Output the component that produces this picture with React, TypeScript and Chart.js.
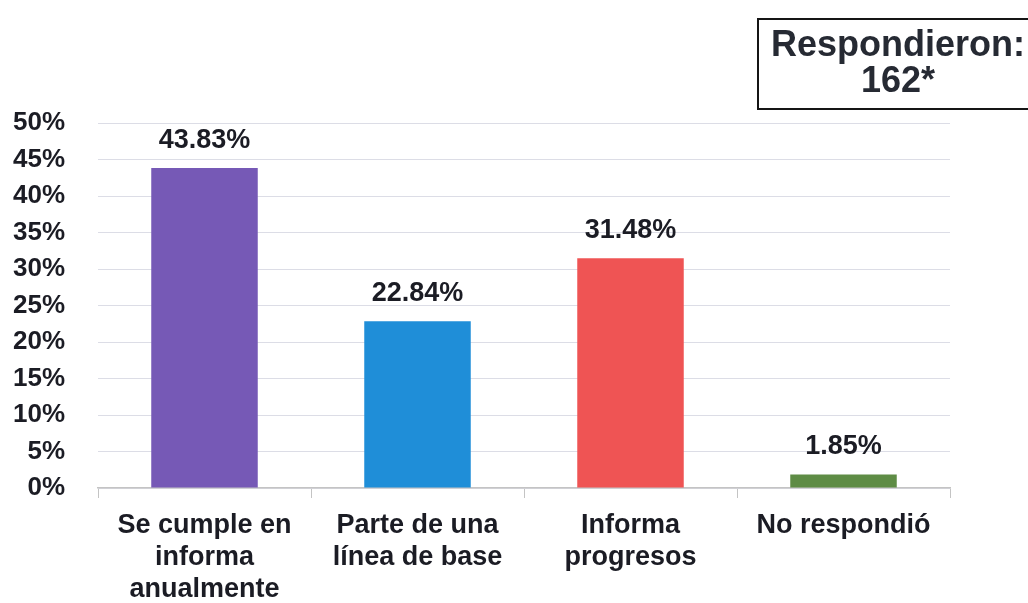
import React, { useEffect, useRef } from "react";
import { Chart, registerables } from "chart.js";

Chart.register(...registerables);

const categories: string[][] = [
  ["Se cumple en", "informa", "anualmente"],
  ["Parte de una", "línea de base"],
  ["Informa", "progresos"],
  ["No respondió"],
];
const values: number[] = [43.83, 22.84, 31.48, 1.85];
const valueLabels: string[] = ["43.83%", "22.84%", "31.48%", "1.85%"];
const barColors: string[] = ["#7659b6", "#1f8ed8", "#ef5454", "#5e8c45"];
const yTicks: number[] = [0, 5, 10, 15, 20, 25, 30, 35, 40, 45, 50];
const respondedTitle = "Respondieron:";
const respondedCount = "162*";

const FONT = "'Liberation Sans', Arial, sans-serif";
const TEXT = "#1b1c24";

const valueLabelPlugin = {
  id: "valueLabels",
  afterDatasetsDraw(chart: any) {
    const ctx = chart.ctx;
    const meta = chart.getDatasetMeta(0);
    ctx.save();
    ctx.font = `bold 27px ${FONT}`;
    ctx.fillStyle = TEXT;
    ctx.textAlign = "center";
    ctx.textBaseline = "bottom";
    meta.data.forEach((bar: any, i: number) => {
      ctx.fillText(valueLabels[i], bar.x, bar.y - 14);
    });
    ctx.restore();
  },
};

export default function App() {
  const canvasRef = useRef<HTMLCanvasElement | null>(null);

  useEffect(() => {
    document.body.style.margin = "0";
    const canvas = canvasRef.current;
    if (!canvas) return;
    const chart = new Chart(canvas, {
      type: "bar",
      data: {
        labels: categories,
        datasets: [
          {
            data: values,
            backgroundColor: barColors,
            borderWidth: 0,
            categoryPercentage: 1,
            barPercentage: 0.5,
          },
        ],
      },
      plugins: [valueLabelPlugin],
      options: {
        animation: false,
        responsive: false,
        maintainAspectRatio: false,
        layout: { padding: { top: 123, right: 78, left: 0, bottom: 0 } },
        plugins: {
          legend: { display: false },
          tooltip: { enabled: false },
        },
        scales: {
          x: {
            offset: true,
            border: { display: true, color: "#c4c4c4", width: 1.5 },
            grid: {
              offset: true,
              drawOnChartArea: false,
              drawTicks: true,
              tickLength: 10,
              color: "#c4c4c4",
            },
            ticks: {
              color: TEXT,
              font: { family: FONT, size: 27, weight: "bold", lineHeight: 1.2 },
              padding: 11,
              maxRotation: 0,
              autoSkip: false,
            },
            afterFit(scale: any) {
              scale.height = 115;
            },
          },
          y: {
            min: 0,
            max: 50,
            border: { display: false },
            grid: { color: "#dcdde6", lineWidth: 1, drawTicks: false },
            afterBuildTicks(scale: any) {
              scale.ticks = yTicks.map((v) => ({ value: v }));
            },
            ticks: {
              color: TEXT,
              font: { family: FONT, size: 26, weight: "bold" },
              padding: 33,
              callback: (v: any) => `${v}%`,
            },
            afterFit(scale: any) {
              scale.width = 98;
            },
          },
        },
      },
    });
    return () => chart.destroy();
  }, []);

  return (
    <div style={{ position: "relative", width: 1028, height: 603, overflow: "hidden", background: "#ffffff" }}>
      <canvas ref={canvasRef} width={1028} height={603} style={{ position: "absolute", left: 0, top: 0 }} />
      <div
        style={{
          position: "absolute",
          left: 757,
          top: 18,
          width: 282,
          height: 92,
          border: "2px solid #151515",
          boxSizing: "border-box",
          fontFamily: FONT,
          fontWeight: "bold",
          fontSize: 36,
          lineHeight: "36px",
          color: "#262a33",
          textAlign: "center",
          paddingTop: 6,
        }}
      >
        <div>{respondedTitle}</div>
        <div>{respondedCount}</div>
      </div>
    </div>
  );
}
